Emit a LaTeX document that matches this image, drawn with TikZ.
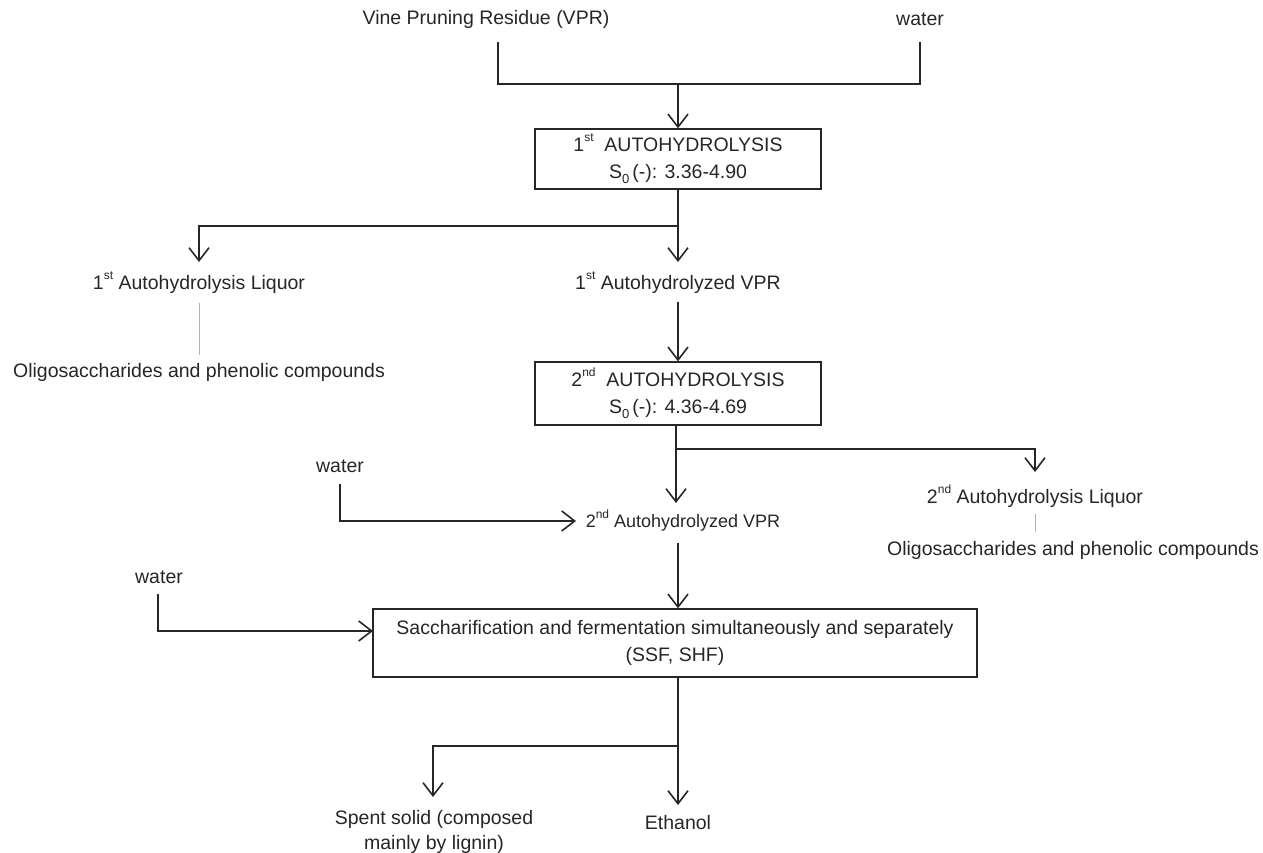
\documentclass[tikz,border=0pt]{standalone}
\usepackage{fontspec}
\setmainfont{Liberation Sans}
\usetikzlibrary{arrows.meta}
\newcommand\mysup[1]{\raisebox{0.5em}{\fontsize{12}{12}\selectfont #1}}
\newcommand\mysub[1]{\raisebox{-0.28em}{\fontsize{13}{13}\selectfont #1}}
\begin{document}
\begin{tikzpicture}[x=1pt,y=-1pt,
  every node/.style={font=\fontsize{19.5}{27}\selectfont, inner sep=0pt, text=black!85},
  lbl/.style={align=center},
  procbox/.style={draw=black!85, line width=1.3pt, align=center, inner sep=0pt},
  flow/.style={draw=black!85, line width=1.6pt, -{Straight Barb[length=13pt,width=20pt,line width=1.6pt]}},
  link/.style={draw=black!85, line width=1.6pt},
  faint/.style={line width=0.9pt, draw=gray!60}]
\useasboundingbox (0,0) rectangle (1263,852);

% texts
\node[lbl] (vpr) at (486,19) {Vine Pruning Residue (VPR)};
\node[lbl] (wat1) at (920,19) {water};
\node[procbox, minimum width=286pt, minimum height=60pt] (ah1) at (678,159)
  {1\mysup{st}\ \ AUTOHYDROLYSIS\\S\mysub{0}\,(-): 3.36-4.90};
\node[lbl] (liq1) at (199,283) {1\mysup{st} Autohydrolysis Liquor};
\node[lbl] (avpr1) at (678,283) {1\mysup{st} Autohydrolyzed VPR};
\node[lbl] (olig1) at (199,372) {Oligosaccharides and phenolic compounds};
\node[procbox, minimum width=286pt, minimum height=63pt] (ah2) at (678,393.5)
  {2\mysup{nd}\ \ AUTOHYDROLYSIS\\S\mysub{0}\,(-): 4.36-4.69};
\node[lbl] (wat2) at (340,466) {water};
\node[lbl, font=\fontsize{18}{24}\selectfont] (avpr2) at (683,521) {2\mysup{nd} Autohydrolyzed VPR};
\node[lbl] (liq2) at (1035,496) {2\mysup{nd} Autohydrolysis Liquor};
\node[lbl] (olig2) at (1073,550) {Oligosaccharides and phenolic compounds};
\node[lbl] (wat3) at (159,577) {water};
\node[procbox, minimum width=604pt, minimum height=68pt] (ssf) at (675,643)
  {Saccharification and fermentation simultaneously and separately\\(SSF, SHF)};
\node[lbl, font=\fontsize{19.5}{25}\selectfont] (spent) at (434,832) {Spent solid (composed\\mainly by lignin)};
\node[lbl] (eth) at (678,823) {Ethanol};

% junction and end coordinates
\coordinate (vprB) at (498,42);
\coordinate (watB) at (920,42);
\coordinate (j0) at (678,84);
\coordinate (j1) at (678,226);
\coordinate (liq1A) at (199,262);
\coordinate (avpr1A) at (678,262);
\coordinate (g1a) at (199,303);
\coordinate (g1b) at (199,355);
\coordinate (avpr1B) at (678,302);
\coordinate (j2) at (676,449);
\coordinate (liq2A) at (1035,472);
\coordinate (avpr2A) at (676,503);
\coordinate (w2B) at (340,484);
\coordinate (avpr2L) at (576,521);
\coordinate (g2a) at (1035,514);
\coordinate (g2b) at (1035,532);
\coordinate (avpr2B) at (678,543);
\coordinate (w3B) at (158,594);
\coordinate (ssfL) at (373,631);
\coordinate (j3) at (678,746);
\coordinate (spA) at (433,797);
\coordinate (ethA) at (678,805);

% connectors
\draw[link] (vprB) |- (j0) -| (watB);
\draw[flow] (j0) -- (ah1.north);
\draw[link] (ah1.south) -- (j1);
\draw[flow] (j1) -| (liq1A);
\draw[flow] (j1) -- (avpr1A);
\draw[faint] (g1a) -- (g1b);
\draw[flow] (avpr1B) -- (ah2.north);
\draw[link] (j2 |- ah2.south) -- (j2);
\draw[flow] (j2) -| (liq2A);
\draw[flow] (j2) -- (avpr2A);
\draw[faint] (g2a) -- (g2b);
\draw[flow] (w2B) |- (avpr2L);
\draw[flow] (avpr2B) -- (avpr2B |- ssf.north);
\draw[flow] (w3B) |- (ssfL);
\draw[link] (j3 |- ssf.south) -- (j3);
\draw[flow] (j3) -| (spA);
\draw[flow] (j3) -- (ethA);
\end{tikzpicture}
\end{document}
